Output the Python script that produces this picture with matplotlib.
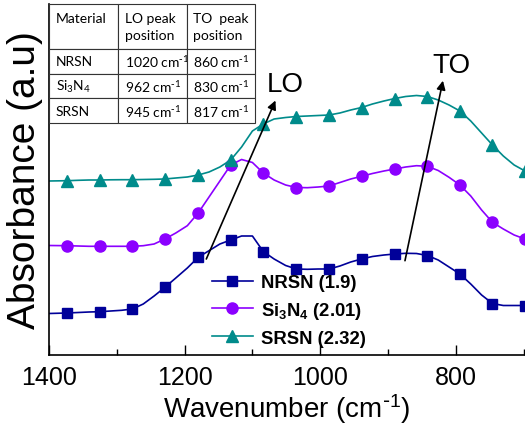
import matplotlib
matplotlib.use('Agg')
import matplotlib.pyplot as plt
from matplotlib.ticker import MultipleLocator

plt.rcParams['font.family'] = ['Liberation Sans', 'DejaVu Sans']
plt.rcParams['mathtext.default'] = 'regular'

# ---------------- data ----------------
wavenumber = [1400, 1373, 1357, 1341, 1325, 1309, 1293, 1277, 1261, 1245,
              1229, 1213, 1196, 1180, 1164, 1148, 1132, 1116, 1100, 1084,
              1068, 1051, 1035, 1019, 1003, 987, 971, 955, 939, 923,
              906, 890, 874, 858, 842, 826, 810, 794, 778, 762,
              746, 730, 714, 698]

nrsn = [0.415, 0.420, 0.425, 0.430, 0.433, 0.440, 0.447, 0.460, 0.510, 0.590,
        0.677, 0.770, 0.870, 0.977, 1.043, 1.110, 1.150, 1.190, 1.190, 1.035,
        0.960, 0.895, 0.860, 0.857, 0.860, 0.860, 0.890, 0.930, 0.960, 0.985,
        1.000, 1.010, 1.017, 1.015, 0.995, 0.950, 0.880, 0.810, 0.710, 0.600,
        0.515, 0.495, 0.495, 0.495]

si3n4 = [1.095, 1.093, 1.090, 1.087, 1.087, 1.087, 1.087, 1.087, 1.093, 1.110,
         1.160, 1.220, 1.293, 1.420, 1.580, 1.740, 1.900, 1.955, 1.925, 1.820,
         1.750, 1.700, 1.675, 1.673, 1.680, 1.690, 1.725, 1.760, 1.787, 1.815,
         1.840, 1.860, 1.880, 1.893, 1.887, 1.845, 1.777, 1.700, 1.590, 1.450,
         1.327, 1.260, 1.200, 1.160]

srsn = [1.740, 1.743, 1.747, 1.750, 1.750, 1.752, 1.753, 1.753, 1.755, 1.757,
        1.760, 1.770, 1.780, 1.800, 1.830, 1.880, 1.950, 2.080, 2.240, 2.310,
        2.360, 2.375, 2.385, 2.390, 2.395, 2.400, 2.420, 2.450, 2.475, 2.510,
        2.540, 2.565, 2.585, 2.595, 2.585, 2.550, 2.500, 2.440, 2.340, 2.220,
        2.100, 1.990, 1.900, 1.840]

series_labels = ['NRSN (1.9)', 'Si$_3$N$_4$ (2.01)', 'SRSN (2.32)']

table_header = ['Material\n ', 'LO peak\nposition', 'TO  peak\nposition']
table_materials = ['NRSN', 'Si$_3$N$_4$', 'SRSN']
lo_peaks = ['1020 cm$^{\\text{-}1}$', '962 cm$^{\\text{-}1}$', '945 cm$^{\\text{-}1}$']
to_peaks = ['860 cm$^{\\text{-}1}$', '830 cm$^{\\text{-}1}$', '817 cm$^{\\text{-}1}$']

# annotation arrows: (tail), (head), label position
lo_tail, lo_head, lo_text = (1168, 0.96), (1066, 2.545), (1052, 2.71)
to_tail, to_head, to_text = (875, 0.943), (819, 2.743), (806, 2.90)

# ---------------- figure ----------------
fig = plt.figure(figsize=(5.25, 4.35), dpi=100)
ax = fig.add_axes([49 / 525, 79 / 435, 476 / 525, 351 / 435])

colors = ['#000099', '#8B00FF', '#008B8B']
markers = ['s', 'o', '^']
sizes = [7.5, 8, 8]
for ys, lab, c, m, ms in zip([nrsn, si3n4, srsn], series_labels, colors, markers, sizes):
    ax.plot(wavenumber, ys, color=c, lw=1.2, marker=m, markersize=ms,
            markevery=(1, 3), label=lab)

ax.set_xlim(1400, 698)
ax.set_ylim(0, 3.51)
ax.xaxis.set_major_locator(MultipleLocator(200))
ax.xaxis.set_minor_locator(MultipleLocator(100))
ax.tick_params(axis='x', which='major', direction='in', length=7, width=1,
               labelsize=18, pad=7)
ax.tick_params(axis='x', which='minor', direction='in', length=4, width=1)
ax.set_yticks([])
for s in ['top', 'right']:
    ax.spines[s].set_visible(False)
for s in ['left', 'bottom']:
    ax.spines[s].set_linewidth(1.2)

ax.set_xlabel('Wavenumber (cm$^{\\text{-}1}$)', fontsize=20, labelpad=2)
ax.set_ylabel('Absorbance (a.u)', fontsize=28, labelpad=4)

# arrows
for tail, head in [(lo_tail, lo_head), (to_tail, to_head)]:
    ax.annotate('', xy=head, xytext=tail,
                arrowprops=dict(arrowstyle='-|>', color='black', lw=1.2,
                                mutation_scale=13, shrinkA=0, shrinkB=0))
ax.text(*lo_text, 'LO', fontsize=20, ha='center', va='center')
ax.text(*to_text, 'TO', fontsize=20, ha='center', va='center')

# legend
ax.legend(loc='upper left', bbox_to_anchor=(211.7 / 525, (435 - 275) / 435),
          bbox_transform=fig.transFigure, frameon=False,
          prop={'weight': 'bold', 'size': 13.3}, handlelength=2.25,
          handletextpad=0.4, labelspacing=0.48, borderpad=0, borderaxespad=0)

# table
cell_text = [[m, lo, to] for m, lo, to in zip(table_materials, lo_peaks, to_peaks)]
tbl = ax.table(cellText=cell_text, colLabels=table_header, cellLoc='left',
               colLoc='left', bbox=[0, (356 - 124) / 351, 206 / 476, 119 / 351],
               colWidths=[69, 68.5, 68.5])
tbl.auto_set_font_size(False)
tbl.set_fontsize(10)
for (r, c), cell in tbl.get_celld().items():
    cell.set_height(45 if r == 0 else 24.7)
    cell.set_linewidth(0.8)
    cell.set_edgecolor('#333333')
    cell.get_text().set_fontfamily(['Lato', 'DejaVu Sans'])
    cell.get_text().set_linespacing(1.5)
tbl.set_zorder(5)

fig.savefig('out.png', dpi=100)
